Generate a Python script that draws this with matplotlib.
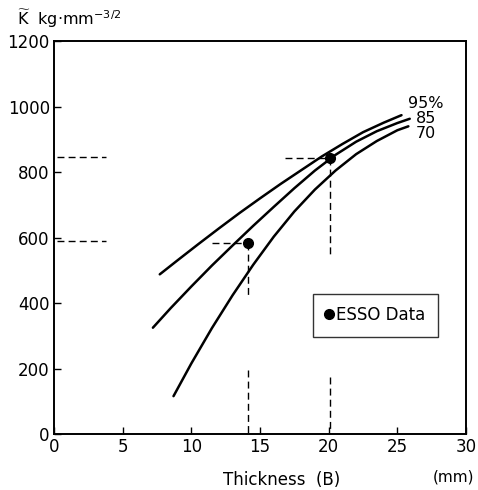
import matplotlib
matplotlib.use('Agg')
import matplotlib.pyplot as plt
from matplotlib.lines import Line2D

plt.rcParams['font.family'] = ['DejaVu Sans']
plt.rcParams['mathtext.default'] = 'regular'

# curves (thickness mm, K kg.mm^-3/2)
x95 = [7.7, 9.0, 10.5, 12.0, 13.5, 15.0, 16.5, 18.0, 19.5, 21.0, 22.5, 24.0, 25.3]
y95 = [488, 531, 580, 628, 675, 720, 764, 806, 848, 886, 922, 951, 974]
x85 = [7.2, 8.5, 10.0, 11.5, 13.0, 14.5, 16.0, 17.5, 19.0, 20.5, 22.0, 23.5, 25.0, 25.9]
y85 = [325, 385, 451, 515, 576, 636, 694, 751, 805, 853, 893, 925, 950, 963]
x70 = [8.7, 10.0, 11.5, 13.0, 14.5, 16.0, 17.5, 19.0, 20.5, 22.0, 23.5, 25.0, 25.8]
y70 = [116, 216, 324, 424, 517, 603, 680, 747, 805, 855, 895, 928, 940]
curve_labels = ['95%', '85', '70']

# ESSO data points
esso_x = [14.1, 20.1]
esso_y = [585, 842]

fig = plt.figure(figsize=(4.78, 4.90), dpi=100)
ax = fig.add_axes([0.113, 0.114, 0.862, 0.802])

for xs, ys in [(x95, y95), (x85, y85), (x70, y70)]:
    ax.plot(xs, ys, color='black', lw=1.8, solid_capstyle='round')

ax.plot(esso_x, esso_y, 'o', color='black', ms=7, zorder=5)

# dashed reading lines
dkw = dict(color='black', lw=1.0, ls=(0, (5, 3)))
for ex, ey in zip(esso_x, esso_y):
    ax.plot([0.2, 3.8], [ey + 5, ey + 5], **dkw)
ax.plot([11.5, esso_x[0]], [esso_y[0], esso_y[0]], **dkw)
ax.plot([esso_x[0], esso_x[0]], [esso_y[0], 424], **dkw)
ax.plot([esso_x[0], esso_x[0]], [195, 0], **dkw)
ax.plot([16.8, esso_x[1]], [esso_y[1], esso_y[1]], **dkw)
ax.plot([esso_x[1], esso_x[1]], [esso_y[1], 548], **dkw)
ax.plot([esso_x[1], esso_x[1]], [175, 0], **dkw)

# curve labels
ax.text(27.1, 1010, curve_labels[0], fontsize=11.5, ha='center', va='center')
ax.text(27.1, 965, curve_labels[1], fontsize=11.5, ha='center', va='center')
ax.text(27.1, 918, curve_labels[2], fontsize=11.5, ha='center', va='center')

ax.set_xlim(0, 30)
ax.set_ylim(0, 1200)
ax.set_xticks([0, 5, 10, 15, 20, 25, 30])
ax.set_yticks([0, 200, 400, 600, 800, 1000, 1200])
ax.tick_params(direction='in', length=5, width=1, labelsize=12, color='black')
ax.tick_params(axis='x', pad=3)
ax.tick_params(axis='y', pad=3)
for s in ax.spines.values():
    s.set_linewidth(1.4)

handle = Line2D([], [], marker='o', color='black', ls='none', ms=7)
leg = ax.legend([handle], ['ESSO Data'], loc='center', bbox_to_anchor=(0.78, 0.303),
                frameon=True, fancybox=False, edgecolor='black', fontsize=12,
                handlelength=0.4, handletextpad=0.25, borderpad=0.75, borderaxespad=0)
leg.get_frame().set_linewidth(1.0)

fig.text(0.036, 0.962, r'$\widetilde{K}$  kg$\cdot$mm$^{-3/2}$', fontsize=11.5,
         ha='left', va='center')
fig.text(0.59, 0.021, 'Thickness  (B)', fontsize=12, ha='center', va='center')
fig.text(0.948, 0.026, '(mm)', fontsize=11, ha='center', va='center')

fig.savefig('out.png', dpi=100)
